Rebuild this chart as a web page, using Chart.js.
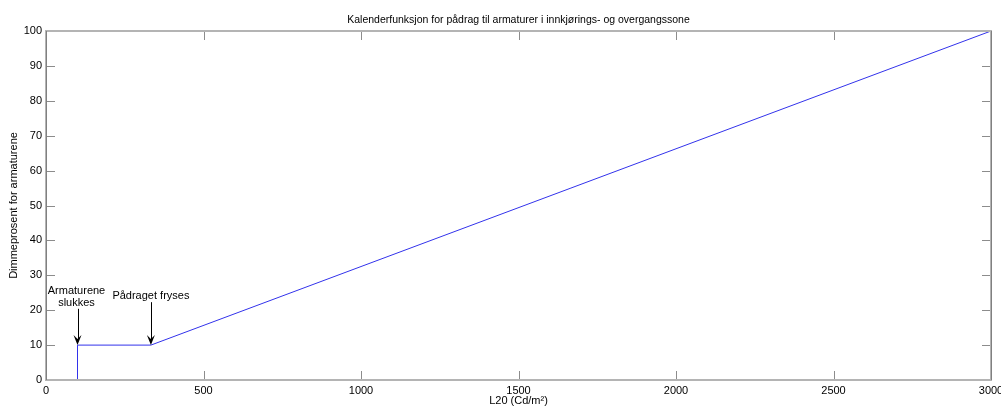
<!DOCTYPE html>
<html>
<head>
<meta charset="utf-8">
<script src="https://cdn.jsdelivr.net/npm/chart.js@4"></script>
<style>
  html, body { margin: 0; padding: 0; background: #fff; }
  #wrap { width: 1001px; height: 410px; }
</style>
</head>
<body>
<div id="wrap"><canvas id="chart"></canvas></div>
<script>
// curve breakpoints: L20 -> dimming percent
const lumValues = [100, 100, 333, 3000];
const dimValues = [0, 10, 10, 100];
const xTicks = [0, 500, 1000, 1500, 2000, 2500, 3000];
const yTicks = [0, 10, 20, 30, 40, 50, 60, 70, 80, 90, 100];
const chartTitle = 'Kalenderfunksjon for pådrag til armaturer i innkjørings- og overgangssone';

// text notes with arrows pointing at the curve
const notes = [
    { lines: ["Armaturene", "slukkes"], x: 100, textY: 25.6, fromY: 20.4, toY: 10 },
    { lines: ["Pådraget fryses"], x: 333, textY: 24.0, fromY: 22.3, toY: 10 }
];

const FONT = '"Liberation Sans", Arial, sans-serif';

const boxPlugin = {
    id: 'matlabBox',
    afterDatasetsDraw(chart) {
        const { ctx, chartArea: { left, top, right, bottom }, scales } = chart;
        const tickLen = 9;
        ctx.save();
        ctx.strokeStyle = '#8c8c8c';
        ctx.lineWidth = 1;
        ctx.beginPath();
        for (const v of xTicks) {
            const px = Math.round(scales.x.getPixelForValue(v)) + 0.5;
            ctx.moveTo(px, bottom); ctx.lineTo(px, bottom - tickLen);
            ctx.moveTo(px, top); ctx.lineTo(px, top + tickLen);
        }
        for (const v of yTicks) {
            const py = Math.round(scales.y.getPixelForValue(v)) + 0.5;
            ctx.moveTo(left, py); ctx.lineTo(left + tickLen, py);
            ctx.moveTo(right, py); ctx.lineTo(right - tickLen, py);
        }
        ctx.stroke();
        ctx.strokeStyle = '#b4b4b4';
        ctx.lineWidth = 2;
        ctx.strokeRect(left, top, right - left, bottom - top);
        ctx.strokeStyle = '#808080';
        ctx.lineWidth = 1;
        ctx.beginPath();
        ctx.moveTo(Math.round(left) + 0.5, top);
        ctx.lineTo(Math.round(left) + 0.5, bottom);
        ctx.moveTo(Math.round(right) + 0.5, top);
        ctx.lineTo(Math.round(right) + 0.5, bottom);
        ctx.stroke();

        // title, centred over the plot box
        ctx.fillStyle = '#000';
        ctx.font = '10.5px ' + FONT;
        ctx.textAlign = 'center';
        ctx.textBaseline = 'middle';
        ctx.fillText(chartTitle, (left + right) / 2, 20);

        // annotations
        ctx.strokeStyle = '#000';
        ctx.font = '11px ' + FONT;
        for (const n of notes) {
            const px = scales.x.getPixelForValue(n.x);
            const ty = scales.y.getPixelForValue(n.textY);
            n.lines.forEach((t, i) => ctx.fillText(t, px - (n.lines.length > 1 ? 1 : 0), ty + i * 12));
            const y0 = scales.y.getPixelForValue(n.fromY);
            const y1 = scales.y.getPixelForValue(n.toY);
            ctx.lineWidth = 1;
            ctx.beginPath();
            ctx.moveTo(Math.round(px) + 0.5, y0);
            ctx.lineTo(Math.round(px) + 0.5, y1 - 4);
            ctx.stroke();
            ctx.beginPath();
            ctx.moveTo(px, y1);
            ctx.lineTo(px - 4, y1 - 10);
            ctx.lineTo(px, y1 - 6);
            ctx.lineTo(px + 4, y1 - 10);
            ctx.closePath();
            ctx.fill();
        }
        ctx.restore();
    }
};

const points = lumValues.map((x, i) => ({ x: x, y: dimValues[i] }));

new Chart(document.getElementById('chart'), {
    type: 'scatter',
    data: {
        datasets: [{
            data: points,
            showLine: true,
            borderColor: 'rgb(50,50,235)',
            borderWidth: 1,
            pointRadius: 0,
            tension: 0
        }]
    },
    plugins: [boxPlugin],
    options: {
        responsive: true,
        maintainAspectRatio: false,
        animation: false,
        layout: { padding: { left: 0, right: 0, top: 31, bottom: 0 } },
        plugins: {
            legend: { display: false },
            tooltip: { enabled: false },
            title: { display: false }
        },
        scales: {
            x: {
                type: 'linear',
                min: 0, max: 3000,
                afterFit(scale) { scale.height = 30; scale.paddingRight = 10; },
                afterBuildTicks(scale) { scale.ticks = xTicks.map(v => ({ value: v })); },
                grid: { display: false, drawTicks: false },
                border: { display: false },
                ticks: {
                    color: '#000', padding: 4, maxRotation: 0,
                    font: { family: FONT, size: 11 },
                    callback: v => String(v)
                },
                title: {
                    display: true, text: 'L20 (Cd/m²)', color: '#000',
                    font: { family: FONT, size: 11 }, padding: { top: 0, bottom: 2 }
                }
            },
            y: {
                type: 'linear',
                min: 0, max: 100,
                afterFit(scale) { scale.width = 46; },
                afterBuildTicks(scale) { scale.ticks = yTicks.map(v => ({ value: v })); },
                grid: { display: false, drawTicks: false },
                border: { display: false },
                ticks: {
                    color: '#000', padding: 4,
                    font: { family: FONT, size: 11 },
                    callback: v => String(v)
                },
                title: {
                    display: true, text: 'Dimmeprosent for armaturene', color: '#000',
                    font: { family: FONT, size: 11 }, padding: { top: 7, bottom: 0 }
                }
            }
        }
    }
});
</script>
</body>
</html>
